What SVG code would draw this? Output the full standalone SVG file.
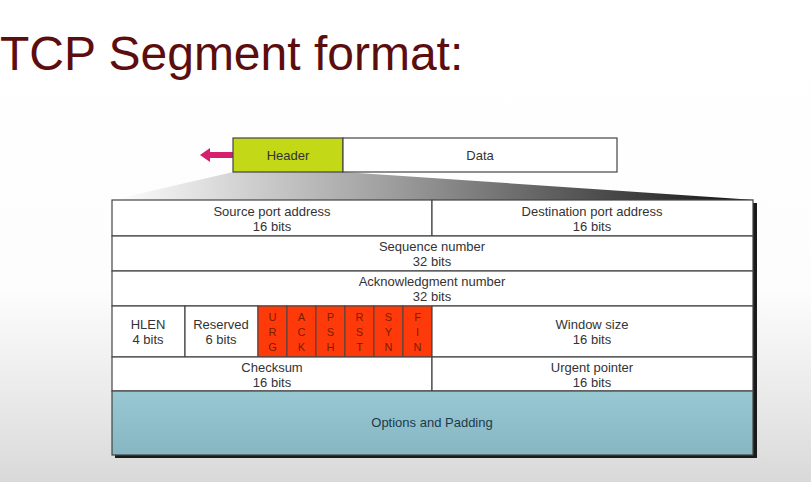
<svg xmlns="http://www.w3.org/2000/svg" width="811" height="482" viewBox="0 0 811 482">
<defs>
<linearGradient id="bg" x1="0" y1="0" x2="0" y2="1">
<stop offset="0" stop-color="#ffffff"/><stop offset="0.6" stop-color="#fdfdfd"/><stop offset="0.8" stop-color="#ececec"/><stop offset="1" stop-color="#d9d9d9"/>
</linearGradient>
<linearGradient id="fan" x1="0" y1="0" x2="1" y2="0">
<stop offset="0" stop-color="#ffffff"/><stop offset="0.45" stop-color="#9a9a9a"/><stop offset="1" stop-color="#111111"/>
</linearGradient>
<linearGradient id="opt" x1="0" y1="0" x2="0" y2="1">
<stop offset="0" stop-color="#98c8d2"/><stop offset="1" stop-color="#86b6c2"/>
</linearGradient>
<linearGradient id="row" x1="0" y1="0" x2="0" y2="1">
<stop offset="0" stop-color="#ffffff"/><stop offset="1" stop-color="#ececec"/>
</linearGradient>
<style>
.t{font-family:"Liberation Sans",Arial,sans-serif;font-size:13px;fill:#333;text-anchor:middle}
.f{font-family:"Liberation Sans",Arial,sans-serif;font-size:11px;fill:#7a1d00;text-anchor:middle}
.c{stroke:#444;stroke-width:1.2;fill:#fff}
.flag{fill:#ff3a0a;stroke:#444;stroke-width:1}
</style>
</defs>
<rect width="811" height="482" fill="url(#bg)"/>
<text x="0" y="70" font-family="Liberation Sans, Arial, sans-serif" font-size="48" fill="#5c0d0d">TCP Segment format:</text>

<g id="connectors">
<polygon points="233,172 343,172 755,200 112,200" fill="url(#fan)"/>
<polygon points="200,155 210,148 210,152 233,152 233,158 210,158 210,162" fill="#d6206e"/>
</g>

<g id="header"><rect x="233" y="138" width="110" height="34" fill="#c3d817" stroke="#444" stroke-width="1.2"/><text class="t" x="288" y="160">Header</text></g>
<g id="data"><rect x="343" y="138" width="274" height="34" fill="#fff" stroke="#444" stroke-width="1.2"/><text class="t" x="480" y="160">Data</text></g>

<rect x="115" y="203" width="642" height="255" fill="#1a1a1a"/>
<g id="src"><rect class="c" x="112" y="200" width="320" height="36"/><text class="t" x="272" y="216">Source port address</text><text class="t" x="272" y="231">16 bits</text></g>
<g id="dst"><rect class="c" x="432" y="200" width="321" height="36"/><text class="t" x="592" y="216">Destination port address</text><text class="t" x="592" y="231">16 bits</text></g>
<g id="seq"><rect class="c" x="112" y="236" width="641" height="35"/><text class="t" x="432" y="251">Sequence number</text><text class="t" x="432" y="266">32 bits</text></g>
<g id="ack"><rect class="c" x="112" y="271" width="641" height="35"/><text class="t" x="432" y="286">Acknowledgment number</text><text class="t" x="432" y="301">32 bits</text></g>
<g id="hlen"><rect class="c" x="112" y="306" width="73" height="51"/><text class="t" x="148" y="329">HLEN</text><text class="t" x="148" y="344">4 bits</text></g>
<g id="reserved"><rect class="c" x="185" y="306" width="73" height="51"/><text class="t" x="221" y="329">Reserved</text><text class="t" x="221" y="344">6 bits</text></g>
<g id="urg"><rect class="flag" x="258" y="306" width="29" height="51"/><text class="f" x="272.5" y="321">U</text><text class="f" x="272.5" y="336">R</text><text class="f" x="272.5" y="351">G</text></g>
<g id="ackf"><rect class="flag" x="287" y="306" width="29" height="51"/><text class="f" x="301.5" y="321">A</text><text class="f" x="301.5" y="336">C</text><text class="f" x="301.5" y="351">K</text></g>
<g id="psh"><rect class="flag" x="316" y="306" width="29" height="51"/><text class="f" x="330.5" y="321">P</text><text class="f" x="330.5" y="336">S</text><text class="f" x="330.5" y="351">H</text></g>
<g id="rst"><rect class="flag" x="345" y="306" width="29" height="51"/><text class="f" x="359.5" y="321">R</text><text class="f" x="359.5" y="336">S</text><text class="f" x="359.5" y="351">T</text></g>
<g id="syn"><rect class="flag" x="374" y="306" width="29" height="51"/><text class="f" x="388.5" y="321">S</text><text class="f" x="388.5" y="336">Y</text><text class="f" x="388.5" y="351">N</text></g>
<g id="fin"><rect class="flag" x="403" y="306" width="29" height="51"/><text class="f" x="417.5" y="321">F</text><text class="f" x="417.5" y="336">I</text><text class="f" x="417.5" y="351">N</text></g>
<g id="window"><rect class="c" x="432" y="306" width="321" height="51"/><text class="t" x="592" y="329">Window size</text><text class="t" x="592" y="344">16 bits</text></g>
<g id="checksum"><rect class="c" x="112" y="357" width="320" height="34" fill="url(#row)"/><text class="t" x="272" y="372">Checksum</text><text class="t" x="272" y="387">16 bits</text></g>
<g id="urgent"><rect class="c" x="432" y="357" width="321" height="34" fill="url(#row)"/><text class="t" x="592" y="372">Urgent pointer</text><text class="t" x="592" y="387">16 bits</text></g>
<g id="options"><rect x="112" y="391" width="641" height="64" fill="url(#opt)" stroke="#444" stroke-width="1.2"/><text class="t" x="432" y="427" style="fill:#1e3a4a">Options and Padding</text></g>
</svg>
